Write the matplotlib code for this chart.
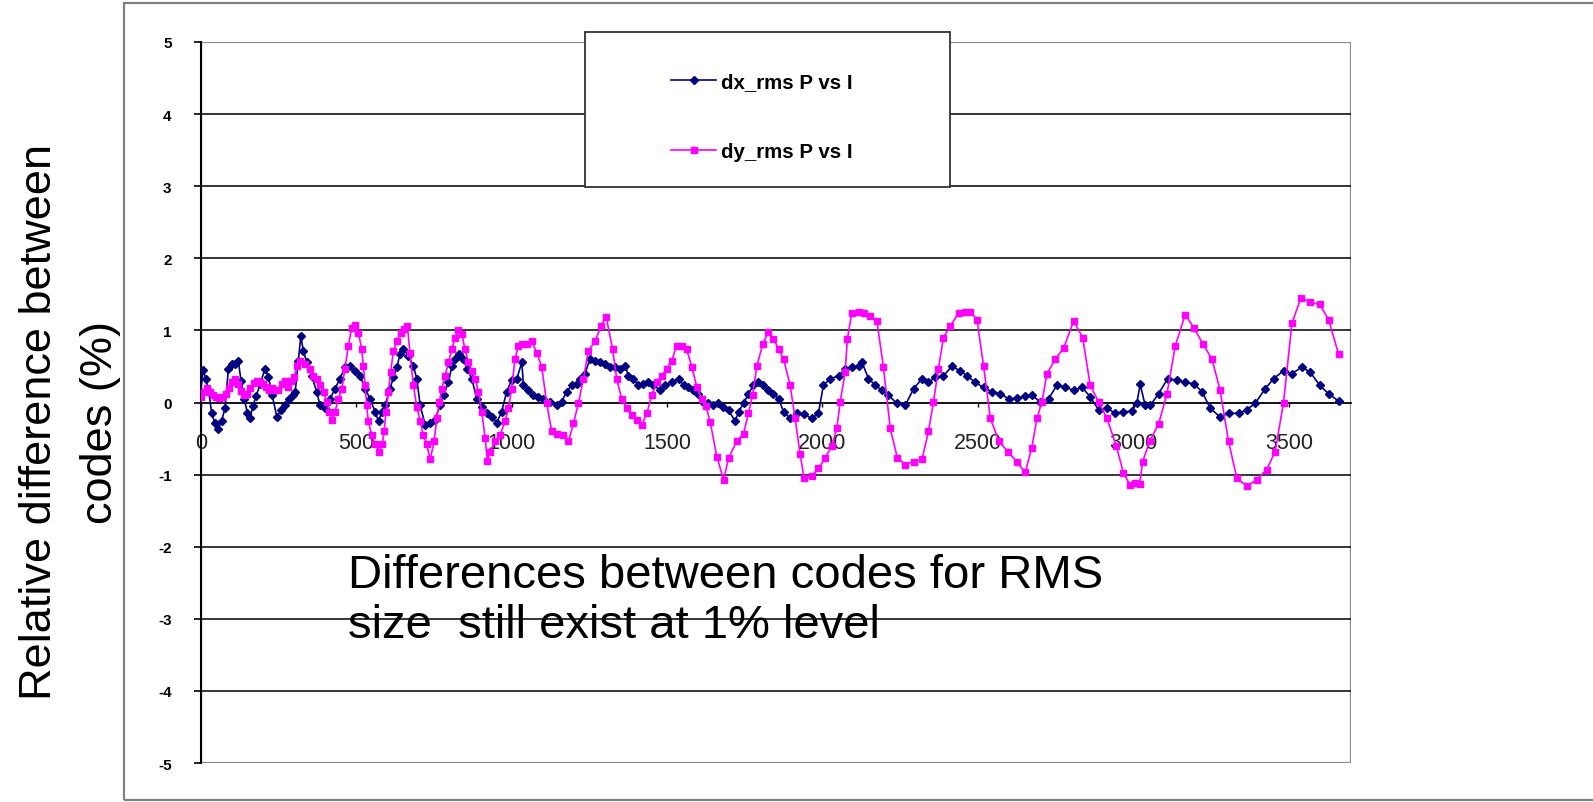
import matplotlib
matplotlib.use("Agg")
import matplotlib.pyplot as plt
from matplotlib.patches import Rectangle

# ---------------- data ----------------
dx_x = [0, 8, 17, 25, 35, 45, 57, 67, 78, 89, 100, 110, 121, 130, 140, 150, 159, 168, 178, 191,
        207, 218, 230, 245, 258, 272, 285, 296, 304, 314, 322, 330, 341, 357, 373, 384, 400, 416, 432, 448,
        464, 480, 496, 513, 529, 545, 561, 572, 582, 593, 609, 620, 631, 641, 652, 668, 684, 695, 706, 722,
        738, 754, 770, 781, 797, 808, 818, 832, 845, 856, 872, 888, 904, 920, 936, 952, 968, 984, 1000, 1017,
        1033, 1038, 1054, 1070, 1086, 1102, 1124, 1145, 1161, 1177, 1194, 1210, 1220, 1236, 1252, 1269, 1285, 1301, 1317, 1333,
        1349, 1365, 1376, 1392, 1408, 1424, 1440, 1456, 1478, 1494, 1515, 1537, 1553, 1569, 1585, 1601, 1617, 1633, 1649, 1665,
        1681, 1698, 1719, 1730, 1746, 1762, 1778, 1794, 1810, 1826, 1842, 1859, 1875, 1896, 1918, 1939, 1966, 1987, 2003, 2025,
        2052, 2073, 2094, 2116, 2127, 2148, 2170, 2191, 2212, 2239, 2266, 2293, 2320, 2341, 2363, 2389, 2416, 2443, 2465, 2491,
        2518, 2545, 2572, 2599, 2625, 2652, 2674, 2700, 2727, 2754, 2781, 2808, 2835, 2861, 2888, 2915, 2942, 2968, 2995, 3011,
        3022, 3038, 3054, 3081, 3110, 3140, 3167, 3194, 3221, 3247, 3279, 3306, 3339, 3365, 3392, 3424, 3451, 3483, 3510, 3542,
        3569, 3599, 3628, 3660]
dx_y = [0.15, 0.45, 0.32, 0.18, -0.14, -0.28, -0.37, -0.26, -0.08, 0.46, 0.53, 0.53, 0.57, 0.30, 0.05, -0.14, -0.21, -0.05, 0.09, 0.25,
        0.47, 0.35, 0.10, -0.20, -0.10, -0.03, 0.05, 0.10, 0.15, 0.58, 0.92, 0.72, 0.56, 0.37, 0.15, -0.04, -0.08, 0.05, 0.19, 0.33,
        0.49, 0.51, 0.44, 0.37, 0.19, 0.05, -0.13, -0.26, -0.13, -0.04, 0.19, 0.35, 0.49, 0.67, 0.74, 0.65, 0.51, 0.33, -0.04, -0.31,
        -0.29, -0.24, -0.04, 0.10, 0.28, 0.51, 0.60, 0.67, 0.60, 0.47, 0.33, 0.05, -0.06, -0.15, -0.20, -0.28, -0.13, 0.15, 0.31, 0.33,
        0.56, 0.24, 0.17, 0.10, 0.08, 0.05, 0.01, -0.04, 0.01, 0.15, 0.24, 0.26, 0.33, 0.40, 0.60, 0.58, 0.56, 0.53, 0.49, 0.49,
        0.47, 0.51, 0.37, 0.33, 0.24, 0.26, 0.28, 0.24, 0.17, 0.24, 0.28, 0.33, 0.24, 0.21, 0.17, 0.12, 0.01, -0.01, -0.04, -0.01,
        -0.06, -0.11, -0.26, -0.13, -0.01, 0.12, 0.24, 0.28, 0.24, 0.17, 0.12, 0.05, -0.13, -0.22, -0.15, -0.16, -0.22, -0.15, 0.24, 0.33,
        0.37, 0.47, 0.49, 0.50, 0.56, 0.33, 0.24, 0.17, 0.10, -0.01, -0.04, 0.19, 0.33, 0.28, 0.35, 0.37, 0.50, 0.44, 0.37, 0.28,
        0.21, 0.15, 0.12, 0.05, 0.06, 0.09, 0.10, 0.01, 0.05, 0.24, 0.21, 0.17, 0.21, 0.08, -0.10, -0.08, -0.15, -0.13, -0.12, -0.01,
        0.25, -0.04, -0.04, 0.12, 0.33, 0.31, 0.28, 0.26, 0.15, -0.08, -0.20, -0.15, -0.15, -0.10, -0.01, 0.19, 0.33, 0.44, 0.40, 0.49,
        0.42, 0.24, 0.12, 0.02]

dy_x = [0, 10, 20, 30, 40, 50, 60, 70, 80, 90, 100, 110, 120, 130, 140, 150, 160, 170, 180, 190,
        200, 210, 220, 230, 240, 250, 260, 270, 280, 290, 300, 310, 320, 336, 352, 362, 373, 384, 395, 405,
        414, 421, 432, 443, 454, 464, 475, 486, 496, 507, 518, 523, 529, 534, 539, 550, 561, 574, 584, 590,
        596, 604, 611, 620, 631, 643, 654, 665, 673, 684, 695, 706, 716, 727, 738, 751, 759, 768, 775, 786,
        797, 808, 818, 829, 840, 850, 861, 872, 883, 893, 904, 915, 922, 931, 947, 963, 979, 990, 1000, 1011,
        1022, 1033, 1049, 1065, 1081, 1097, 1113, 1129, 1145, 1165, 1183, 1199, 1215, 1231, 1247, 1269, 1287, 1304, 1325, 1338,
        1354, 1371, 1387, 1403, 1419, 1435, 1451, 1467, 1483, 1499, 1515, 1531, 1547, 1563, 1580, 1596, 1612, 1625, 1639, 1660,
        1682, 1698, 1724, 1746, 1762, 1775, 1789, 1808, 1826, 1842, 1859, 1875, 1896, 1912, 1928, 1941, 1966, 1987, 2009, 2030,
        2046, 2057, 2073, 2080, 2094, 2116, 2132, 2153, 2175, 2196, 2218, 2241, 2266, 2293, 2320, 2341, 2357, 2373, 2389, 2411,
        2438, 2459, 2475, 2497, 2518, 2540, 2568, 2598, 2625, 2652, 2673, 2690, 2706, 2722, 2749, 2776, 2808, 2837, 2861, 2888,
        2915, 2945, 2968, 2990, 3005, 3020, 3030, 3052, 3081, 3108, 3135, 3167, 3194, 3224, 3253, 3279, 3306, 3333, 3365, 3397,
        3429, 3456, 3483, 3510, 3539, 3569, 3599, 3628, 3660]
dy_y = [0.08, 0.15, 0.20, 0.14, 0.10, 0.07, 0.06, 0.08, 0.12, 0.20, 0.28, 0.32, 0.26, 0.16, 0.10, 0.12, 0.20, 0.27, 0.30, 0.28,
        0.25, 0.22, 0.18, 0.20, 0.17, 0.18, 0.25, 0.30, 0.22, 0.30, 0.35, 0.50, 0.58, 0.53, 0.47, 0.37, 0.33, 0.24, 0.15, 0.01,
        -0.13, -0.24, -0.13, 0.05, 0.19, 0.47, 0.79, 1.04, 1.08, 0.97, 0.74, 0.51, 0.24, -0.04, -0.26, -0.45, -0.58, -0.68, -0.58, -0.40,
        -0.13, 0.15, 0.42, 0.72, 0.85, 0.97, 1.02, 1.06, 0.69, 0.24, -0.06, -0.26, -0.45, -0.58, -0.79, -0.54, -0.22, 0.01, 0.19, 0.37,
        0.56, 0.74, 0.90, 1.00, 0.95, 0.74, 0.56, 0.44, 0.33, 0.15, -0.13, -0.49, -0.81, -0.68, -0.54, -0.45, -0.26, -0.08, 0.19, 0.60,
        0.79, 0.81, 0.81, 0.85, 0.69, 0.49, -0.01, -0.40, -0.43, -0.45, -0.54, -0.29, -0.01, 0.33, 0.72, 0.85, 1.06, 1.19, 0.74, 0.33,
        0.05, -0.08, -0.17, -0.24, -0.31, -0.15, 0.10, 0.28, 0.37, 0.47, 0.58, 0.79, 0.79, 0.74, 0.49, 0.21, 0.05, -0.05, -0.27, -0.75,
        -1.07, -0.77, -0.54, -0.43, -0.15, 0.10, 0.51, 0.81, 0.98, 0.88, 0.74, 0.60, 0.24, -0.22, -0.72, -1.05, -1.02, -0.91, -0.77, -0.60,
        -0.36, 0.01, 0.42, 0.88, 1.24, 1.26, 1.24, 1.20, 1.13, 0.49, -0.36, -0.77, -0.86, -0.82, -0.79, -0.40, 0.01, 0.47, 0.90, 1.06,
        1.24, 1.26, 1.26, 1.15, 0.51, -0.22, -0.54, -0.69, -0.82, -0.97, -0.63, -0.22, 0.01, 0.40, 0.60, 0.76, 1.13, 0.90, 0.24, 0.01,
        -0.22, -0.60, -0.98, -1.15, -1.12, -1.13, -0.82, -0.54, -0.30, 0.12, 0.79, 1.22, 1.04, 0.81, 0.60, 0.17, -0.54, -1.05, -1.16, -1.07,
        -0.93, -0.68, 0.00, 1.10, 1.45, 1.39, 1.36, 1.15, 0.67]

x_ticks = [0, 500, 1000, 1500, 2000, 2500, 3000, 3500]
y_ticks = [-5, -4, -3, -2, -1, 0, 1, 2, 3, 4, 5]
series_labels = ["dx_rms P vs I", "dy_rms P vs I"]
y_label = "Relative difference between\ncodes (%)"
note = "Differences between codes for RMS\nsize  still exist at 1% level"

# ---------------- figure ----------------
W, H = 1593, 803
fig = plt.figure(figsize=(W / 100, H / 100), dpi=100)
fig.patch.set_facecolor("white")

# outer chart frame
fig.add_artist(Rectangle((124 / W, 2 / H), 1.2, 797 / H, transform=fig.transFigure,
                         fill=False, edgecolor="#808080", lw=1.6))

ax_l, ax_r, ax_t, ax_b = 200.7, 1351, 43, 764
ax = fig.add_axes([ax_l / W, 1 - ax_b / H, (ax_r - ax_l) / W, (ax_b - ax_t) / H])
ax.set_xlim(0, 3700)
ax.set_ylim(-5, 5)

for s in ["top", "right"]:
    ax.spines[s].set_visible(False)
ax.spines["bottom"].set_position(("data", 0))
ax.spines["bottom"].set_color("black")
ax.spines["bottom"].set_linewidth(1.3)
ax.spines["left"].set_color("black")
ax.spines["left"].set_linewidth(1.5)
ax.spines["bottom"].set_zorder(2)

# plot area border (gray)
ax.add_patch(Rectangle((0, 0), 1, 1, transform=ax.transAxes, fill=False,
                       edgecolor="#8c8c8c", lw=1.6, zorder=1))

for yv in y_ticks:
    if yv not in (-5, 0, 5):
        ax.axhline(yv, color="black", lw=1.1, zorder=1)

ax.set_xticks(x_ticks)
ax.set_xticklabels([str(v) for v in x_ticks], fontsize=15.5, color="#222222",
                   family="Liberation Sans")
ax.set_yticks(y_ticks)
ax.set_yticklabels([str(v) for v in y_ticks], fontsize=11, fontweight="bold",
                   family="Liberation Sans")
ax.tick_params(axis="x", direction="out", length=3, width=1, pad=18)
ax.tick_params(axis="y", direction="out", length=5, width=1.2, pad=16)

l1, = ax.plot(dx_x, dx_y, color="#000080", lw=1.2, marker="D", markersize=3.6,
              markerfacecolor="#000080", markeredgecolor="#000080", zorder=3,
              label=series_labels[0])
l2, = ax.plot(dy_x, dy_y, color="#FF00FF", lw=1.2, marker="s", markersize=4.2,
              markerfacecolor="#FF00FF", markeredgecolor="#FF00FF", zorder=4,
              label=series_labels[1])

# legend box
lx0 = (585 - ax_l) / (ax_r - ax_l)
lx1 = (950 - ax_l) / (ax_r - ax_l)
ly0 = (ax_b - 188) / (ax_b - ax_t)
ly1 = (ax_b - 33) / (ax_b - ax_t)
ax.add_patch(Rectangle((lx0, ly0), lx1 - lx0, ly1 - ly0, transform=ax.transAxes,
                       facecolor="white", edgecolor="#333333", lw=1.3, zorder=6,
                       clip_on=False))
hx = (671 - ax_l) / (ax_r - ax_l)
ey = ((ax_b - 82) + (ax_b - 153)) / 2 / (ax_b - ax_t)
leg = ax.legend(handles=[l1, l2], loc="center left", bbox_to_anchor=(hx, ey),
                frameon=False, borderpad=0, borderaxespad=0, handlelength=2.2,
                handletextpad=0.25, labelspacing=2.5,
                prop={"family": "Liberation Sans", "weight": "bold", "size": 14.8})
leg.set_zorder(7)

# y label
fig.text(70 / W, 1 - 422 / H, y_label, rotation=90, ha="center", va="center",
         multialignment="center", fontsize=32.5, family="Liberation Sans",
         linespacing=1.65, color="black")

# annotation
fig.text(348 / W, 1 - 601 / H, note, ha="left", va="center", fontsize=34,
         family="Liberation Sans", linespacing=1.2, color="black")

fig.savefig("out.png", dpi=100, facecolor="white")
